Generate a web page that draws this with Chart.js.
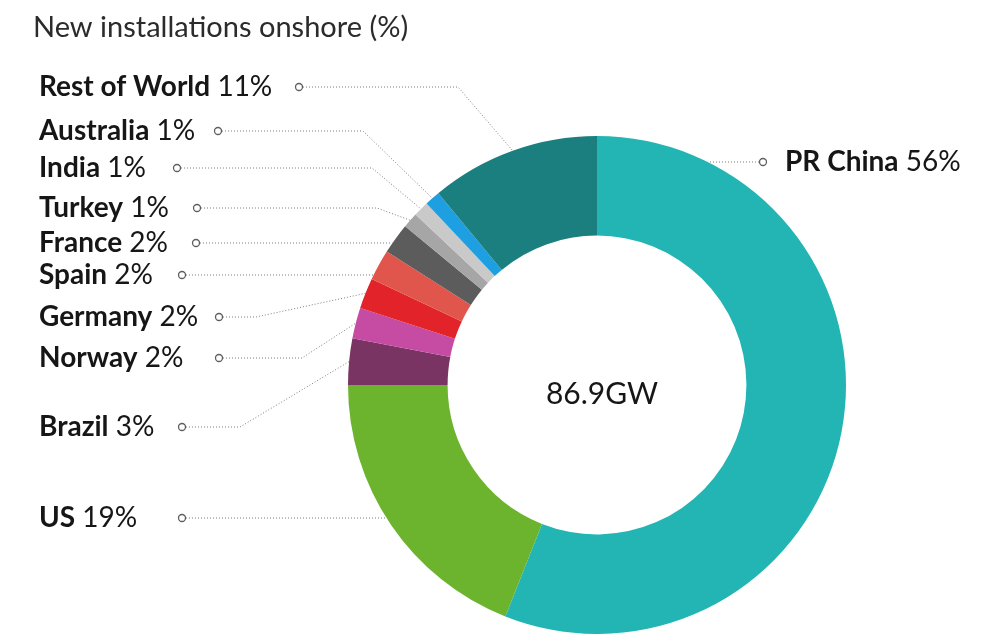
<!DOCTYPE html>
<html>
<head>
<meta charset="utf-8">
<script src="https://cdn.jsdelivr.net/npm/chart.js@4/dist/chart.umd.min.js"></script>
<style>
  html, body { margin: 0; padding: 0; background: #ffffff; }
  #wrap { width: 983px; height: 636px; position: relative; }
</style>
</head>
<body>
<div id="wrap"><canvas id="c"></canvas></div>
<script>
// ---- data ----
const categories = ["PR China", "US", "Brazil", "Norway", "Germany", "Spain", "France", "Turkey", "India", "Australia", "Rest of World"];
const shares = [56, 19, 3, 2, 2, 2, 2, 1, 1, 1, 11];
const colors = ["#23b4b4", "#6cb42d", "#7a3463", "#c64ba3", "#e2232a", "#e0564d", "#5c5c5c", "#a6a6a6", "#c9c9c9", "#1d9fe2", "#1a7f7e"];
const titleText = "New installations onshore (%)";
const centerText = "86.9GW";

// ---- label layout (positions only) ----
const labelLayout = {
  "Rest of World": { y: 87,  dotX: 299, elbowX: 458 },
  "Australia":     { y: 131, dotX: 218, elbowX: 363 },
  "India":         { y: 168, dotX: 177, elbowX: 372 },
  "Turkey":        { y: 208, dotX: 197, elbowX: 377 },
  "France":        { y: 243, dotX: 196, mode: "h" },
  "Spain":         { y: 275, dotX: 182, mode: "h" },
  "Germany":       { y: 317, dotX: 219, elbowX: 256 },
  "Norway":        { y: 358, dotX: 219, elbowX: 302 },
  "Brazil":        { y: 427, dotX: 182, elbowX: 240 },
  "US":            { y: 518, dotX: 182, mode: "h" },
  "PR China":      { y: 162, dotX: 763, mode: "h", right: true }
};

const FONT = "Lato, 'Open Sans', sans-serif";

const leaderPlugin = {
  id: "leaders",
  afterDraw(chart) {
    const ctx = chart.ctx;
    const meta = chart.getDatasetMeta(0);
    ctx.save();
    // title
    ctx.fillStyle = "#2b2b2b";
    ctx.font = "400 29px " + FONT;
    ctx.textBaseline = "middle";
    ctx.textAlign = "left";
    ctx.fillText(titleText, 33, 28);

    meta.data.forEach((arc, i) => {
      const name = categories[i];
      const L = labelLayout[name];
      if (!L) return;
      const p = arc.getProps(["x", "y", "startAngle", "endAngle", "outerRadius"], true);
      const cx = p.x, cy = p.y, r = p.outerRadius;
      let ex, ey;
      if (L.mode === "h") {
        const dy = L.y - cy;
        const dx = Math.sqrt(Math.max(0, r * r - dy * dy));
        ex = L.right ? cx + dx : cx - dx;
        ey = L.y;
      } else {
        const mid = (p.startAngle + p.endAngle) / 2;
        ex = cx + Math.cos(mid) * r;
        ey = cy + Math.sin(mid) * r;
      }
      ctx.strokeStyle = "#7c7c7c";
      ctx.lineWidth = 1;
      ctx.setLineDash([1, 2]);
      ctx.beginPath();
      const startX = L.right ? L.dotX - 4 : L.dotX + 4;
      ctx.moveTo(startX, L.y);
      if (L.elbowX != null) ctx.lineTo(L.elbowX, L.y);
      ctx.lineTo(ex, ey);
      ctx.stroke();
      ctx.setLineDash([]);
      ctx.beginPath();
      ctx.arc(L.dotX, L.y, 3.5, 0, Math.PI * 2);
      ctx.fillStyle = "#ffffff";
      ctx.fill();
      ctx.strokeStyle = "#5e5e5e";
      ctx.lineWidth = 1.3;
      ctx.stroke();
      const pct = " " + shares[i] + "%";
      ctx.textBaseline = "middle";
      ctx.textAlign = "left";
      ctx.fillStyle = "#161616";
      const tx = L.right ? 785 : 39;
      ctx.font = "700 28px " + FONT;
      ctx.fillText(name, tx, L.y);
      const w = ctx.measureText(name).width;
      ctx.font = "400 28px " + FONT;
      ctx.fillText(pct, tx + w, L.y);
    });

    const a0 = meta.data[0];
    ctx.font = "400 30px " + FONT;
    ctx.fillStyle = "#161616";
    ctx.textAlign = "center";
    ctx.textBaseline = "middle";
    ctx.fillText(centerText, a0.x + 5, a0.y + 9);
    ctx.restore();
  }
};

new Chart(document.getElementById("c"), {
  type: "doughnut",
  data: {
    labels: categories,
    datasets: [{
      data: shares,
      backgroundColor: colors,
      borderWidth: 0
    }]
  },
  options: {
    responsive: true,
    maintainAspectRatio: false,
    animation: false,
    cutout: "60%",
    layout: { padding: { top: 136, bottom: 2, left: 348, right: 137 } },
    plugins: {
      legend: { display: false },
      tooltip: { enabled: false },
      title: { display: false }
    }
  },
  plugins: [leaderPlugin]
});
</script>
</body>
</html>
